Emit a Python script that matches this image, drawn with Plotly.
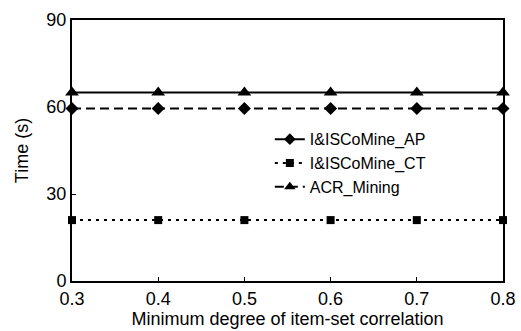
import plotly.graph_objects as go

x_vals = [0.3, 0.4, 0.5, 0.6, 0.7, 0.8]
ap_time = [59.5, 59.5, 59.5, 59.5, 59.5, 59.5]
ct_time = [21, 21, 21, 21, 21, 21]
acr_time = [65, 65, 65, 65, 65, 65]
x_ticks = [0.3, 0.4, 0.5, 0.6, 0.7, 0.8]
y_ticks = [0, 30, 60, 90]

fig = go.Figure()
# plotted lines (as drawn in the reference)
fig.add_trace(go.Scatter(x=x_vals, y=acr_time, mode="lines+markers", showlegend=False,
                         line=dict(color="black", width=2),
                         marker=dict(symbol="triangle-up", size=12, color="black"), cliponaxis=False))
fig.add_trace(go.Scatter(x=x_vals, y=ap_time, mode="lines+markers", showlegend=False,
                         line=dict(color="black", width=2, dash="9px,5px"),
                         marker=dict(symbol="diamond", size=10, color="black"), cliponaxis=False))
fig.add_trace(go.Scatter(x=x_vals, y=ct_time, mode="lines+markers", showlegend=False,
                         line=dict(color="black", width=2, dash="3px,5px"),
                         marker=dict(symbol="square", size=8, color="black"), cliponaxis=False))
# legend entries
fig.add_trace(go.Scatter(x=[None], y=[None], mode="lines+markers", name="I&ISCoMine_AP",
                         line=dict(color="black", width=2),
                         marker=dict(symbol="diamond", size=9, color="black")))
fig.add_trace(go.Scatter(x=[None], y=[None], mode="lines+markers", name="I&ISCoMine_CT",
                         line=dict(color="black", width=2, dash="3px,5px"),
                         marker=dict(symbol="square", size=8, color="black")))
fig.add_trace(go.Scatter(x=[None], y=[None], mode="lines+markers", name="ACR_Mining",
                         line=dict(color="black", width=2, dash="9px,5px"),
                         marker=dict(symbol="triangle-up", size=10, color="black")))

font_family = "Liberation Sans, Arial, sans-serif"
fig.update_layout(
    width=521, height=331,
    margin=dict(l=72, r=18, t=20, b=50),
    paper_bgcolor="white", plot_bgcolor="white",
    font=dict(family=font_family, color="black", size=17),
    legend=dict(x=0.459, y=0.608, xanchor="left", yanchor="top",
                bgcolor="rgba(0,0,0,0)", font=dict(size=16), tracegroupgap=0),
    xaxis=dict(range=[0.3, 0.8], tickvals=x_ticks, ticktext=[f"{v:.1f}" for v in x_ticks],
               showgrid=False, zeroline=False, showline=True, linecolor="black", linewidth=2,
               mirror=True, ticks="inside", ticklen=4, tickcolor="black",
               tickfont=dict(size=18), automargin=False,
               title=dict(text="Minimum degree of item-set correlation", font=dict(size=18), standoff=0)),
    yaxis=dict(range=[0, 90], tickvals=y_ticks, showgrid=False, zeroline=False, showline=True,
               linecolor="black", linewidth=2, mirror=True, ticks="inside", ticklen=4, tickcolor="black",
               tickfont=dict(size=18), automargin=False,
               title=dict(text="Time (s)", font=dict(size=18), standoff=13)),
)
fig.write_html("out.html", config={"displayModeBar": False},
               post_script="document.body.style.margin='0px';")
